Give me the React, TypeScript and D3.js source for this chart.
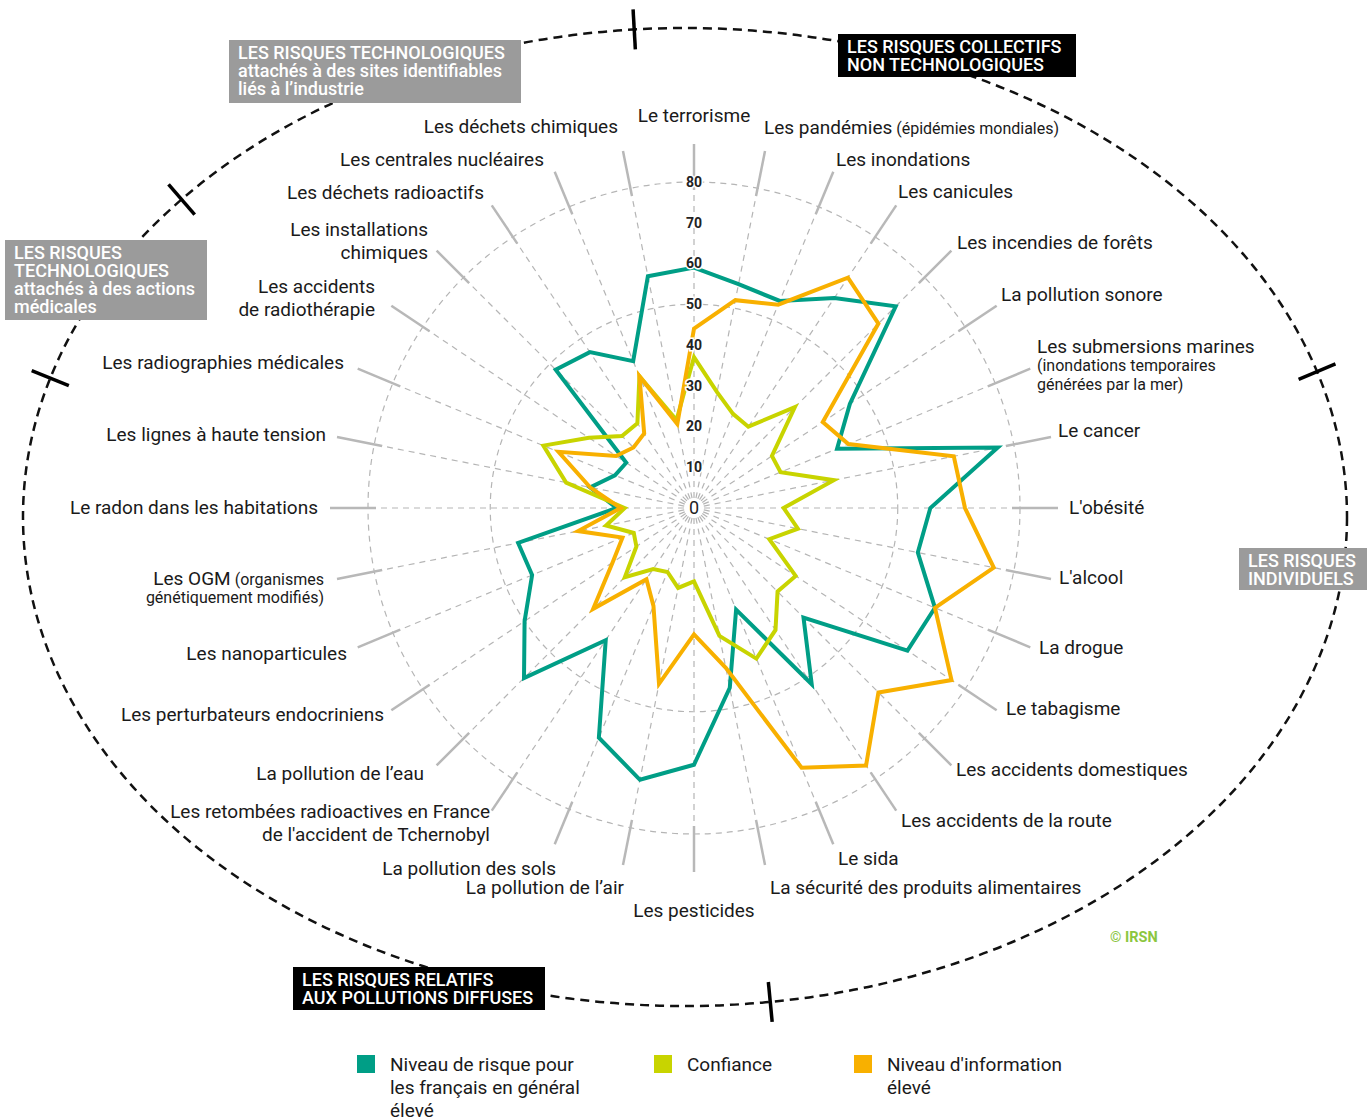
import React from 'react';
import * as d3 from 'd3';

// axes, clockwise from the top
const categories = [
  'Le terrorisme', 'Les pandémies', 'Les inondations', 'Les canicules',
  'Les incendies de forêts', 'La pollution sonore', 'Les submersions marines', 'Le cancer',
  "L'obésité", "L'alcool", 'La drogue', 'Le tabagisme',
  'Les accidents domestiques', 'Les accidents de la route', 'Le sida', 'La sécurité des produits alimentaires',
  'Les pesticides', 'La pollution de l’air', 'La pollution des sols', 'Les retombées radioactives en France',
  'La pollution de l’eau', 'Les perturbateurs endocriniens', 'Les nanoparticules', 'Les OGM',
  'Le radon dans les habitations', 'Les lignes à haute tension', 'Les radiographies médicales', 'Les accidents',
  'Les installations', 'Les déchets radioactifs', 'Les centrales nucléaires', 'Les déchets chimiques',
];

// Niveau de risque pour les français en général élevé
const risque = [59, 56, 55, 62, 70, 46, 38, 76, 58, 56, 64, 63, 38, 52, 27, 45, 63, 68, 61, 39, 59, 50, 43, 44, 19, 26, 21, 20, 48, 46, 39, 58];
// Confiance
const confiance = [37, 29, 25, 24, 35, 23, 23, 35, 22, 26, 20, 30, 29, 36, 40, 32, 18, 20, 17, 18, 24, 17, 16, 22, 17, 32, 40, 31, 25, 25, 35, 22];
// Niveau d'information élevé
const information = [44, 52, 54, 68, 64, 38, 41, 65, 66.5, 75, 64, 76, 64, 76, 69, 40, 31, 44, 26, 21, 35, 24, 19, 29, 18, 26, 36, 23, 21, 22, 35, 21];

const ringTicks = [10, 20, 30, 40, 50, 60, 70, 80];
const ringCircles = [50, 80];

const legendItems = [
  { lines: ['Niveau de risque pour', 'les français en général', 'élevé'], color: '#009e86' },
  { lines: ['Confiance'], color: '#c8d400' },
  { lines: ["Niveau d'information", 'élevé'], color: '#f8b000' },
];

const groupBoxes = [
  { x: 229, y: 40, w: 292, h: 63, fill: '#9b9b9b', lines: ['LES RISQUES TECHNOLOGIQUES', 'attachés à des sites identifiables', 'liés à l’industrie'] },
  { x: 5, y: 240, w: 202, h: 80, fill: '#9b9b9b', lines: ['LES RISQUES', 'TECHNOLOGIQUES', 'attachés à des actions', 'médicales'] },
  { x: 838, y: 34, w: 238, h: 43, fill: '#000', lines: ['LES RISQUES COLLECTIFS', 'NON TECHNOLOGIQUES'] },
  { x: 1239, y: 548, w: 128, h: 42, fill: '#9b9b9b', lines: ['LES RISQUES', 'INDIVIDUELS'] },
  { x: 293, y: 967, w: 252, h: 43, fill: '#000', lines: ['LES RISQUES RELATIFS', 'AUX POLLUTIONS DIFFUSES'] },
];

// label placement (x, y of first line centre, anchor); extra lines below, small = smaller font
type Seg = { t: string; small?: boolean };
const labelLayout: { x: number; y: number; a: string; extra?: Seg[][]; tail?: string }[] = [
  { x: 694, y: 115, a: 'middle' },
  { x: 764, y: 127, a: 'start', tail: ' (épidémies mondiales)' },
  { x: 836, y: 159, a: 'start' },
  { x: 898, y: 191, a: 'start' },
  { x: 957, y: 242, a: 'start' },
  { x: 1001, y: 294, a: 'start' },
  { x: 1037, y: 346, a: 'start', extra: [[{ t: '(inondations temporaires', small: true }], [{ t: 'générées par la mer)', small: true }]] },
  { x: 1058, y: 430, a: 'start' },
  { x: 1069, y: 507, a: 'start' },
  { x: 1059, y: 577, a: 'start' },
  { x: 1039, y: 647, a: 'start' },
  { x: 1006, y: 708, a: 'start' },
  { x: 956, y: 769, a: 'start' },
  { x: 901, y: 820, a: 'start' },
  { x: 838, y: 858, a: 'start' },
  { x: 770, y: 887, a: 'start' },
  { x: 694, y: 910, a: 'middle' },
  { x: 624, y: 887, a: 'end' },
  { x: 556, y: 868, a: 'end' },
  { x: 490, y: 811, a: 'end', extra: [[{ t: "de l'accident de Tchernobyl" }]] },
  { x: 424, y: 773, a: 'end' },
  { x: 384, y: 714, a: 'end' },
  { x: 347, y: 653, a: 'end' },
  { x: 324, y: 578, a: 'end', tail: ' (organismes', extra: [[{ t: 'génétiquement modifiés)', small: true }]] },
  { x: 318, y: 507, a: 'end' },
  { x: 326, y: 434, a: 'end' },
  { x: 344, y: 362, a: 'end' },
  { x: 375, y: 286, a: 'end', extra: [[{ t: 'de radiothérapie' }]] },
  { x: 428, y: 229, a: 'end', extra: [[{ t: 'chimiques' }]] },
  { x: 484, y: 192, a: 'end' },
  { x: 544, y: 159, a: 'end' },
  { x: 618, y: 126, a: 'end' },
];

const W = 1367;
const H = 1119;
const cx = 694;
const cy = 508;
const font = 'Roboto, "Noto Sans", sans-serif';

// outer group ellipse
const ell = { cx: 685, cy: 517, rx: 662, ry: 489 };
const ellTicks = [265.6, 220.5, 196.5, -17.3, 82.6];

export default function App() {
  const n = categories.length;
  const r = d3.scaleLinear().domain([0, 80]).range([0, 326]);
  const angle = d3.scaleLinear().domain([0, n]).range([0, 2 * Math.PI]);

  const radial = d3
    .lineRadial<number>()
    .angle((_, i) => angle(i))
    .radius((d) => r(d))
    .curve(d3.curveLinearClosed);

  const pt = (i: number, rad: number) => {
    const a = angle(i);
    return [cx + rad * Math.sin(a), cy - rad * Math.cos(a)];
  };

  const series = [
    { values: risque, color: '#009e86' },
    { values: confiance, color: '#c8d400' },
    { values: information, color: '#f8b000' },
  ];

  return (
    <svg width={W} height={H} style={{ position: 'absolute', left: 0, top: 0, display: 'block', background: '#fff' }} fontFamily={font}>
      {/* dashed group ellipse + separators */}
      <ellipse cx={ell.cx} cy={ell.cy} rx={ell.rx} ry={ell.ry} fill="none" stroke="#111" strokeWidth={2.5} strokeDasharray="9 6" />
      {ellTicks.map((t, k) => {
        const a = (t * Math.PI) / 180;
        const px = ell.cx + ell.rx * Math.cos(a);
        const py = ell.cy + ell.ry * Math.sin(a);
        let nx = Math.cos(a) / ell.rx;
        let ny = Math.sin(a) / ell.ry;
        const len = Math.hypot(nx, ny);
        nx /= len;
        ny /= len;
        return <line key={k} x1={px - nx * 20} y1={py - ny * 20} x2={px + nx * 20} y2={py + ny * 20} stroke="#000" strokeWidth={3.5} />;
      })}

      {/* grid */}
      {ringCircles.map((v) => (
        <circle key={v} cx={cx} cy={cy} r={r(v)} fill="none" stroke="#b5b5b5" strokeWidth={1.2} strokeDasharray="6 5" />
      ))}
      {categories.map((c, i) => {
        const [x1, y1] = pt(i, 10);
        const [x2, y2] = pt(i, r(80));
        const [x3, y3] = pt(i, 318);
        const [x4, y4] = pt(i, 364);
        return (
          <g key={c + i}>
            <line x1={x1} y1={y1} x2={x2} y2={y2} stroke="#b5b5b5" strokeWidth={1.2} strokeDasharray="6 5" />
            <line x1={x3} y1={y3} x2={x4} y2={y4} stroke="#b8b8b8" strokeWidth={2.5} />
          </g>
        );
      })}

      {/* series */}
      <g transform={`translate(${cx},${cy})`}>
        {series.map((s) => (
          <path key={s.color} d={radial(s.values) || ''} fill="none" stroke={s.color} strokeWidth={4} strokeLinejoin="miter" />
        ))}
      </g>

      {/* ring values */}
      {ringTicks.map((v) => (
        <text key={v} x={cx} y={cy - r(v)} dy="0.35em" textAnchor="middle" fontSize={14} fontWeight="bold" fill="#222"
          stroke="#fff" strokeWidth={3} paintOrder="stroke">
          {v}
        </text>
      ))}
      <text x={cx} y={cy} dy="0.35em" textAnchor="middle" fontSize={18} fill="#222" stroke="#fff" strokeWidth={3} paintOrder="stroke">0</text>

      {/* axis labels */}
      {categories.map((c, i) => {
        const L = labelLayout[i];
        return (
          <g key={'l' + i} fill="#1a1a1a" textAnchor={L.a}>
            <text x={L.x} y={L.y} dy="0.35em" fontSize={19}>
              {c}
              {L.tail && <tspan fontSize={16}>{L.tail}</tspan>}
            </text>
            {L.extra &&
              L.extra.map((segs, k) => (
                <text key={k} x={L.x} y={L.y + (k + 1) * (segs[0].small ? 19 : 23)} dy="0.35em" fontSize={segs[0].small ? 16 : 19}>
                  {segs.map((s) => s.t).join('')}
                </text>
              ))}
          </g>
        );
      })}

      {/* group boxes */}
      {groupBoxes.map((b, k) => (
        <g key={'b' + k}>
          <rect x={b.x} y={b.y} width={b.w} height={b.h} fill={b.fill} />
          {b.lines.map((t, j) => (
            <text key={j} x={b.x + 9} y={b.y + 13 + j * 18} dy="0.35em" fontSize={18} fontWeight={500} fill="#fff">
              {t}
            </text>
          ))}
        </g>
      ))}

      <text x={1110} y={937} dy="0.35em" fontSize={14.5} fontWeight="bold" fill="#8cc63f">© IRSN</text>

      {/* legend */}
      {legendItems.map((it, k) => {
        const lx = [357, 654, 854][k];
        return (
          <g key={'lg' + k}>
            <rect x={lx} y={1055} width={18} height={18} fill={it.color} />
            {it.lines.map((t, j) => (
              <text key={j} x={lx + 33} y={1064 + j * 23} dy="0.35em" fontSize={19} fill="#1a1a1a">
                {t}
              </text>
            ))}
          </g>
        );
      })}
    </svg>
  );
}
